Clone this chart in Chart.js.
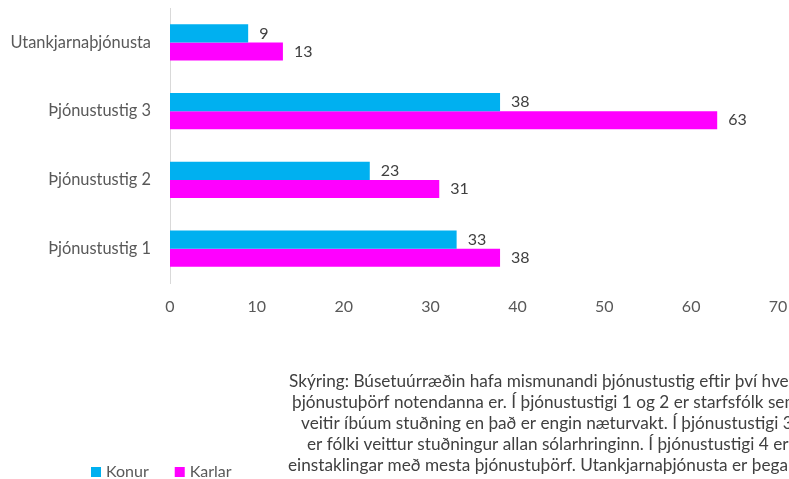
<!DOCTYPE html>
<html>
<head>
<meta charset="utf-8">
<script src="https://cdn.jsdelivr.net/npm/chart.js@4"></script>
<style>
  html, body { margin: 0; padding: 0; background: #ffffff; overflow: hidden; }
  #wrap { position: relative; width: 789px; height: 479px; }
</style>
</head>
<body>
<div id="wrap"><canvas id="c" width="789" height="479"></canvas></div>
<script>
const categories = ['Utankjarnaþjónusta', 'Þjónustustig 3', 'Þjónustustig 2', 'Þjónustustig 1'];
const konur = [9, 38, 23, 33];
const karlar = [13, 63, 31, 38];
const seriesNames = ['Konur', 'Karlar'];
const xTicks = [0, 10, 20, 30, 40, 50, 60, 70];
const noteLines = [
  'Skýring: Búsetuúrræðin hafa mismunandi þjónustustig eftir því hve',
  'þjónustuþörf notendanna er. Í þjónustustigi 1 og 2 er starfsfólk sem',
  'veitir íbúum stuðning en það er engin næturvakt. Í þjónustustigi 3',
  'er fólki veittur stuðningur allan sólarhringinn. Í þjónustustigi 4 eru',
  'einstaklingar með mesta þjónustuþörf. Utankjarnaþjónusta er þega'
];
const noteX = [289, 292, 301, 307, 288];

const FONT = 'Lato, "Open Sans", sans-serif';
const GRAY = '#595959';

const valueLabels = {
  id: 'valueLabels',
  afterDatasetsDraw(chart) {
    const ctx = chart.ctx;
    ctx.save();
    ctx.font = '16px ' + FONT;
    ctx.fillStyle = '#404040';
    ctx.textAlign = 'left';
    ctx.textBaseline = 'middle';
    chart.data.datasets.forEach((ds, di) => {
      chart.getDatasetMeta(di).data.forEach((bar, i) => {
        ctx.fillText(String(ds.data[i]), bar.x + 11, bar.y);
      });
    });
    ctx.restore();
  }
};

const extras = {
  id: 'extras',
  afterDraw(chart) {
    const ctx = chart.ctx;
    ctx.save();
    // legend
    ctx.font = '16px ' + FONT;
    ctx.textBaseline = 'middle';
    ctx.textAlign = 'left';
    let x = 91;
    const y = 472;
    chart.data.datasets.forEach((ds) => {
      ctx.fillStyle = ds.backgroundColor;
      ctx.fillRect(x, y - 5, 10, 10);
      ctx.fillStyle = GRAY;
      ctx.fillText(ds.label, x + 15, y);
      x += 15 + ctx.measureText(ds.label).width + 26;
    });
    // note text
    ctx.font = '17.2px ' + FONT;
    ctx.fillStyle = '#404040';
    noteLines.forEach((line, i) => {
      ctx.fillText(line, noteX[i], 381 + i * 21);
    });
    ctx.restore();
  }
};

function noPad(scale) {
  scale.paddingTop = 0; scale.paddingBottom = 0;
  scale.paddingLeft = 0; scale.paddingRight = 0;
}

new Chart(document.getElementById('c'), {
  type: 'bar',
  data: {
    labels: categories,
    datasets: [
      { label: seriesNames[0], data: konur, backgroundColor: '#00B0F0', categoryPercentage: 0.524, barPercentage: 1.0 },
      { label: seriesNames[1], data: karlar, backgroundColor: '#FF00FF', categoryPercentage: 0.524, barPercentage: 1.0 }
    ]
  },
  options: {
    indexAxis: 'y',
    responsive: false,
    animation: false,
    layout: { padding: { top: 8, right: 11, bottom: 156, left: 0 } },
    plugins: {
      legend: { display: false },
      tooltip: { enabled: false }
    },
    scales: {
      x: {
        min: 0, max: 70,
        afterBuildTicks(scale) { scale.ticks = xTicks.map(v => ({ value: v })); },
        afterFit(scale) { scale.height = 40; noPad(scale); },
        grid: { display: false },
        border: { display: false },
        ticks: { color: GRAY, font: { family: FONT, size: 16 }, padding: 6 }
      },
      y: {
        afterFit(scale) { scale.width = 170; noPad(scale); },
        grid: { display: false },
        border: { display: true, color: '#D9D9D9', width: 1 },
        ticks: { color: GRAY, font: { family: FONT, size: 16.4 }, padding: 11 }
      }
    }
  },
  plugins: [valueLabels, extras]
});
</script>
</body>
</html>
